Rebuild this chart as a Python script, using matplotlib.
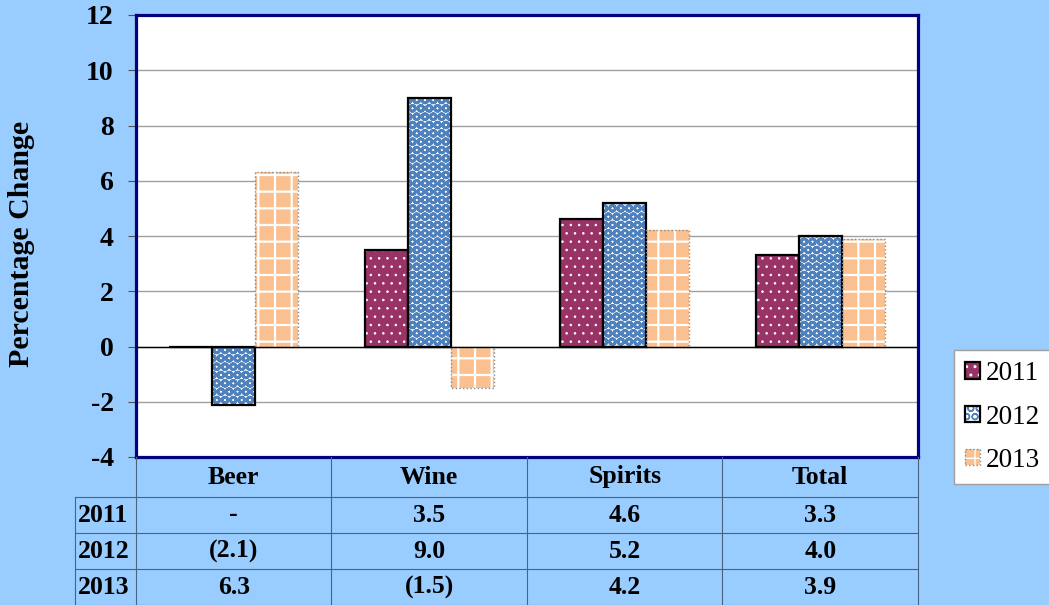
import matplotlib.pyplot as plt
from matplotlib.patches import Patch
import numpy as np

categories = ['Beer', 'Wine', 'Spirits', 'Total']
years = ['2011', '2012', '2013']
v2011 = [0.0, 3.5, 4.6, 3.3]
v2012 = [-2.1, 9.0, 5.2, 4.0]
v2013 = [6.3, -1.5, 4.2, 3.9]

plt.rcParams['font.family'] = 'Liberation Serif'
plt.rcParams['axes.unicode_minus'] = False

bg = '#99CCFF'
W, H = 1049, 605
fig = plt.figure(figsize=(W / 100, H / 100), dpi=100, facecolor=bg)
ax = fig.add_axes([136 / W, 1 - 457 / H, 782 / W, 442 / H])
ax.set_facecolor('white')

x = np.arange(len(categories))
w = 0.22
# face, hatch, hatch colour, hatch width, outline colour, outline style, outline width
styles = [('#993366', '..', 'white', 0.6, 'black', '-', 1.6),
          ('white', 'OO', '#4F81BD', 2.0, 'black', '-', 1.6),
          ('#FAC090', '+', 'white', 1.6, '#8a8a8a', ':', 1.0)]
series = [v2011, v2012, v2013]
handles = []
for i, (vals, (fc, h, hc, hw, ec, ls, lw)) in enumerate(zip(series, styles)):
    pos = x + (i - 1) * w
    with plt.rc_context({'hatch.linewidth': hw}):
        ax.bar(pos, vals, w, color=fc, hatch=h, edgecolor=hc, linewidth=0, zorder=3)
        inner = Patch(facecolor=fc, hatch=h, edgecolor=hc, linewidth=0)
    outer = Patch(fill=False, edgecolor=ec, linewidth=lw, linestyle=ls)
    handles.append((inner, outer))
    ax.bar(pos, vals, w, fill=False, edgecolor=ec, linewidth=lw, linestyle=ls, zorder=4)

ax.set_xlim(-0.5, 3.5)
ax.set_ylim(-4, 12)
ax.set_yticks(range(-4, 13, 2))
ax.set_xticks([])
ax.grid(axis='y', color='#a0a0a0', lw=1, zorder=0)
ax.axhline(0, color='black', lw=1, zorder=5)
for s in ax.spines.values():
    s.set_color('#000080')
    s.set_linewidth(2.3)
ax.tick_params(axis='y', direction='out', length=6, color='#505050', labelsize=20, pad=10)
for t in ax.get_yticklabels():
    t.set_fontweight('bold')

fig.text(22 / W, 1 - 244 / H, 'Percentage Change', rotation=90, ha='center', va='center',
         fontsize=21.5, fontweight='bold')

# data table under the plot, drawn in pixel units
def fmt(v):
    if v == 0:
        return '-'
    if v < 0:
        return f'({abs(v):.1f})'
    return f'{v:.1f}'

col_w = [61] + [782 / 4] * 4
row_h = [40, 36, 36, 36]
tax = fig.add_axes([75 / W, 0, sum(col_w) / W, sum(row_h) / H])
tax.set_xlim(0, sum(col_w))
tax.set_ylim(sum(row_h), 0)
tax.axis('off')
xe = np.concatenate([[0], np.cumsum(col_w)])
ye = np.concatenate([[0], np.cumsum(row_h)])
lc = '#4a6480'
for j, xx in enumerate(xe):
    tax.plot([xx, xx], [ye[1] if j == 0 else ye[0], ye[-1]], color=lc, lw=0.8, clip_on=False)
for i, yy in enumerate(ye[1:], start=1):
    tax.plot([xe[0], xe[-1]], [yy, yy], color=lc, lw=0.8, clip_on=False)
tfs = 18.5
for j, cat in enumerate(categories):
    tax.text((xe[j + 1] + xe[j + 2]) / 2, (ye[0] + ye[1]) / 2, cat, ha='center', va='center',
             fontsize=tfs, fontweight='bold')
for i, (yr, vals) in enumerate(zip(years, series)):
    yc = (ye[i + 1] + ye[i + 2]) / 2
    tax.text(xe[0] + 3, yc, yr, ha='left', va='center', fontsize=tfs, fontweight='bold')
    for j, v in enumerate(vals):
        tax.text((xe[j + 1] + xe[j + 2]) / 2, yc, fmt(v), ha='center', va='center',
                 fontsize=tfs, fontweight='bold')

leg = fig.legend(handles=handles, labels=years, loc='center left',
                 bbox_to_anchor=(954 / W, 1 - 417 / H),
                 fontsize=19.5, frameon=True, facecolor='white', edgecolor='#a0a0a0',
                 framealpha=1, handlelength=0.55, handleheight=0.55, handletextpad=0.22,
                 labelspacing=0.68, borderpad=0.4, borderaxespad=0, fancybox=False)
leg.get_frame().set_linewidth(1.0)

fig.savefig('out.png', dpi=100, facecolor=bg)
